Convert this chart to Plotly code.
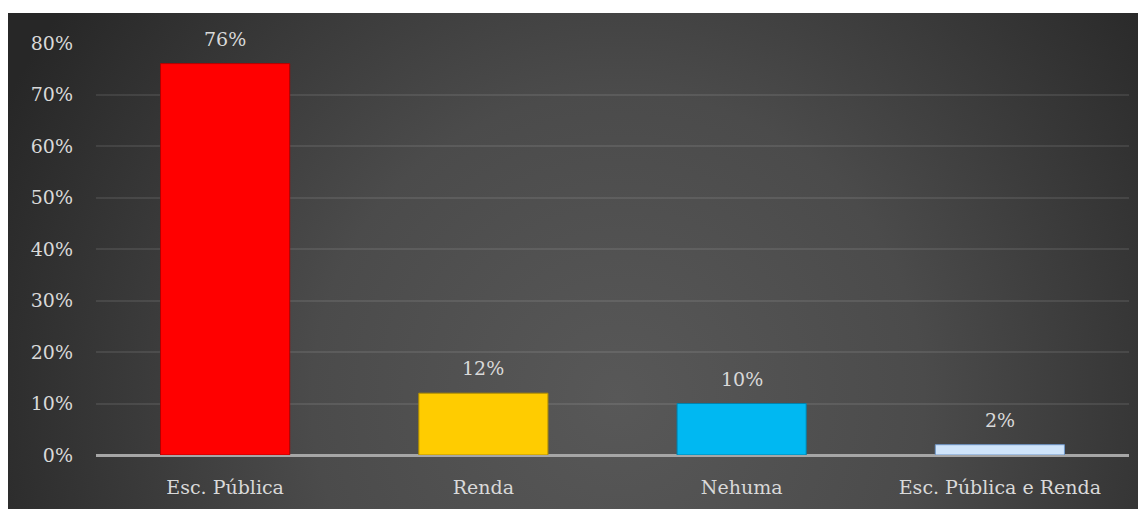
import base64
import plotly.graph_objects as go

categories = ["Esc. Pública", "Renda", "Nehuma", "Esc. Pública e Renda"]
values = [0.76, 0.12, 0.10, 0.02]
bar_colors = ["#ff0000", "#ffcc00", "#00b8f2", "#cfe4fa"]
line_colors = ["#b30000", "#b38f00", "#0082ad", "#6f97c8"]
y_ticks = [0, 0.1, 0.2, 0.3, 0.4, 0.5, 0.6, 0.7, 0.8]

W, H = 1146, 509
L, R, T, B = 88, 25, 35, 62
pw, ph = W - L - R, H - T - B

svg = """<svg xmlns='http://www.w3.org/2000/svg' width='1146' height='504' viewBox='0 0 1146 504' preserveAspectRatio='none'>
<defs><radialGradient id='g' gradientUnits='userSpaceOnUse' cx='610' cy='385' r='680'>
<stop offset='0' stop-color='#585858'/><stop offset='0.45' stop-color='#4b4b4b'/><stop offset='1' stop-color='#272727'/>
</radialGradient></defs><rect width='1146' height='504' fill='url(#g)'/></svg>"""
src = "data:image/svg+xml;base64," + base64.b64encode(svg.encode()).decode()

font = "DejaVu Serif"
txt = "#d9d9d9"

fig = go.Figure(go.Bar(
    x=categories, y=values, width=0.5,
    marker=dict(color=bar_colors, line=dict(color=line_colors, width=1)),
    hoverinfo="skip",
))

for c, v in zip(categories, values):
    fig.add_annotation(x=c, y=v, text=f"{round(v*100)}%", showarrow=False,
                       yanchor="bottom", yshift=12,
                       font=dict(family=font, size=19, color=txt))

fig.add_layout_image(dict(
    source=src, xref="paper", yref="paper",
    x=(0 - L) / pw, y=(H - B - 5) / ph,
    sizex=W / pw, sizey=(H - 5) / ph,
    xanchor="left", yanchor="top", sizing="stretch", layer="below",
))

fig.update_layout(
    width=W, height=H,
    margin=dict(l=L, r=R, t=T, b=B),
    paper_bgcolor="white", plot_bgcolor="rgba(0,0,0,0)",
    showlegend=False, bargap=0.5,
    font=dict(family=font, size=19, color=txt),
    xaxis=dict(showgrid=False, showline=False, ticks="", ticklabelstandoff=19,
               tickfont=dict(family=font, size=19, color=txt)),
    yaxis=dict(range=[0, 0.8], tickvals=y_ticks, tickformat=".0%",
               showgrid=True, gridcolor="rgba(255,255,255,0.09)", gridwidth=2,
               zeroline=True, zerolinecolor="#a6a6a6", zerolinewidth=2.5,
               ticks="", ticklabelstandoff=22,
               tickfont=dict(family=font, size=19, color=txt)),
)

fig.write_html("out.html")
